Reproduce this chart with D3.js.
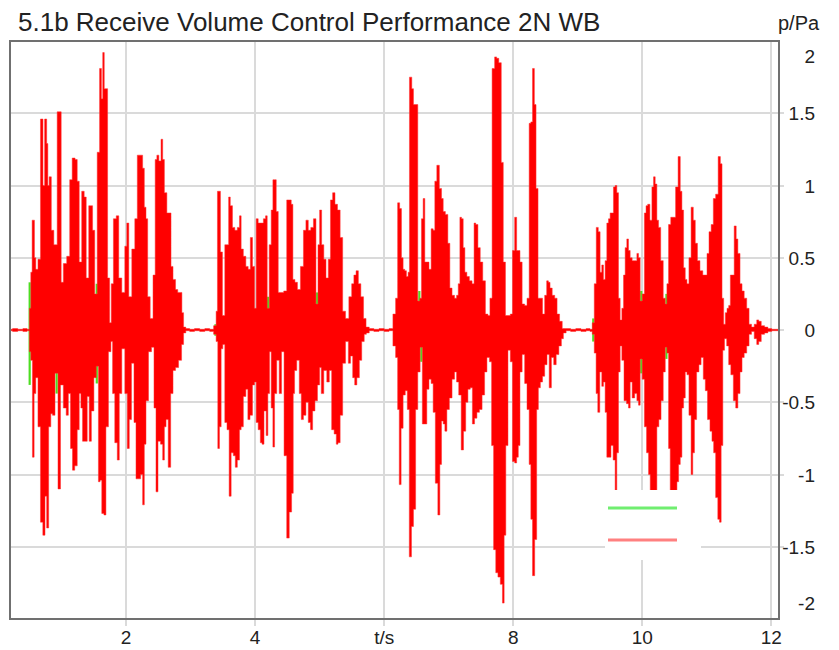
<!DOCTYPE html>
<html><head><meta charset="utf-8">
<script src="https://cdn.jsdelivr.net/npm/d3@7"></script>
<style>
body{margin:0;background:#fff;}
svg{display:block;font-family:"Liberation Sans",Arial,Helvetica,sans-serif;}
</style>
</head><body>
<svg id="chart" width="839" height="650"></svg>
<script>
// ---------- DATA ----------
const chartTitle = "5.1b Receive Volume Control Performance 2N WB";
const yUnitLabel = "p/Pa";
const xTickValues = [2, 4, 6, 8, 10, 12];
const xTickLabels = ["2", "4", "t/s", "8", "10", "12"];
const yTickValues = [2, 1.5, 1, 0.5, 0, -0.5, -1, -1.5, -2];
const yTickLabels = ["2", "1.5", "1", "0.5", "0", "-0.5", "-1", "-1.5", "-2"];
const legendNames = ["", ""];

// red trace: positive peak envelope [t (s), p (Pa)]
const redUpper = [
[0.20,0.005],[0.28,0.01],[0.36,0.005],[0.44,0.01],[0.49,0.005],
[0.510,0.15],[0.535,0.40],[0.551,0.76],[0.571,0.76],[0.587,0.50],[0.613,0.42],[0.654,0.49],[0.691,1.46],[0.706,1.46],[0.716,1.00],[0.758,1.46],[0.779,1.29],[0.794,1.00],[0.820,1.06],[0.861,0.69],[0.898,0.59],[0.965,1.51],[0.986,1.51],[1.001,0.33],[1.053,0.46],[1.105,0.51],[1.146,1.04],[1.182,1.19],[1.193,1.19],[1.224,1.18],[1.260,1.03],[1.286,0.47],[1.337,0.96],[1.363,0.92],[1.400,0.36],[1.441,0.86],[1.467,0.86],[1.493,0.69],[1.534,0.25],[1.570,1.23],[1.607,1.81],[1.627,1.60],[1.648,1.92],[1.674,1.67],[1.700,1.67],[1.726,0.36],[1.762,0.05],[1.777,0.32],[1.829,0.77],[1.865,0.79],[1.907,0.36],[1.959,0.26],[2.000,0.58],[2.021,0.74],[2.062,0.23],[2.114,0.56],[2.155,0.77],[2.192,1.21],[2.243,1.21],[2.269,1.12],[2.295,0.85],[2.321,0.77],[2.347,0.23],[2.399,0.08],[2.435,0.38],[2.466,1.18],[2.487,1.21],[2.528,1.17],[2.554,1.32],[2.580,1.18],[2.606,0.95],[2.657,0.81],[2.683,0.81],[2.709,0.44],[2.745,0.35],[2.787,0.28],[2.813,0.26],[2.849,0.26],[2.880,0.12],[2.901,0.02],
[2.95,0.01],[3.02,0.005],[3.10,0.01],[3.18,0.005],[3.26,0.01],[3.33,0.005],
[3.382,0.03],[3.408,0.13],[3.423,0.96],[3.449,0.96],[3.475,0.54],[3.511,0.10],[3.548,0.59],[3.579,0.59],[3.599,0.92],[3.630,0.86],[3.667,0.71],[3.703,0.69],[3.744,0.71],[3.770,0.79],[3.796,0.56],[3.838,0.51],[3.874,0.44],[3.910,0.42],[3.941,0.64],[3.977,0.44],[4.003,0.15],[4.029,0.77],[4.065,0.74],[4.107,0.74],[4.148,0.77],[4.174,0.79],[4.200,0.15],[4.236,0.59],[4.262,0.83],[4.288,1.04],[4.314,1.04],[4.340,0.82],[4.376,0.26],[4.417,0.26],[4.469,0.27],[4.510,0.90],[4.547,0.90],[4.572,0.87],[4.598,0.35],[4.635,0.33],[4.676,0.28],[4.728,0.44],[4.769,0.69],[4.805,0.76],[4.842,0.69],[4.883,0.71],[4.924,0.77],[4.961,0.18],[4.987,0.59],[5.012,0.83],[5.049,0.59],[5.080,0.49],[5.116,0.36],[5.152,0.49],[5.183,0.90],[5.219,0.95],[5.256,0.87],[5.297,0.83],[5.338,0.64],[5.375,0.13],[5.427,0.08],[5.478,0.23],[5.515,0.32],[5.546,0.38],[5.582,0.41],[5.618,0.32],[5.659,0.23],[5.701,0.08],[5.737,0.02],
[5.80,0.01],[5.88,0.005],[5.96,0.01],[6.04,0.005],[6.11,0.01],
[6.161,0.11],[6.193,0.22],[6.224,0.88],[6.255,0.84],[6.281,0.50],[6.306,0.42],[6.332,0.41],[6.358,0.37],[6.384,0.40],[6.400,1.75],[6.420,1.75],[6.436,1.67],[6.472,1.56],[6.503,1.56],[6.539,0.20],[6.565,0.22],[6.591,0.77],[6.617,0.91],[6.643,0.47],[6.679,0.47],[6.710,0.42],[6.746,0.70],[6.772,0.69],[6.798,1.03],[6.834,1.14],[6.876,0.98],[6.902,0.91],[6.928,0.82],[6.969,0.80],[7.005,0.60],[7.031,0.29],[7.073,0.24],[7.109,0.22],[7.135,0.24],[7.161,0.32],[7.186,0.78],[7.212,0.77],[7.238,0.57],[7.264,0.40],[7.300,0.37],[7.342,0.34],[7.383,0.32],[7.404,0.74],[7.435,0.73],[7.471,0.57],[7.507,0.47],[7.549,0.34],[7.590,0.11],[7.626,0.10],[7.652,0.22],[7.694,1.81],[7.730,1.89],[7.756,1.88],[7.797,1.85],[7.833,1.16],[7.859,0.47],[7.901,0.10],[7.937,0.10],[7.973,0.11],[8.004,0.55],[8.041,0.78],[8.066,0.55],[8.092,0.55],[8.118,0.47],[8.159,0.18],[8.196,0.17],[8.232,0.22],[8.263,1.43],[8.284,1.44],[8.315,1.81],[8.341,1.56],[8.367,0.98],[8.403,0.22],[8.439,0.22],[8.470,0.11],[8.506,0.24],[8.532,0.34],[8.558,0.33],[8.584,0.29],[8.625,0.24],[8.662,0.22],[8.698,0.11],[8.739,0.06],[8.781,0.01],
[8.85,0.01],[8.93,0.005],[9.01,0.01],[9.09,0.005],[9.17,0.01],[9.21,0.005],
[9.241,0.05],[9.272,0.32],[9.303,0.71],[9.334,0.68],[9.360,0.40],[9.386,0.45],[9.412,0.35],[9.438,0.48],[9.464,0.74],[9.490,0.77],[9.515,0.81],[9.541,0.81],[9.567,0.99],[9.593,1.00],[9.619,0.95],[9.645,0.22],[9.671,0.07],[9.697,0.15],[9.723,0.38],[9.748,0.57],[9.774,0.63],[9.800,0.55],[9.826,0.50],[9.862,0.48],[9.904,0.48],[9.930,0.53],[9.955,0.50],[9.981,0.20],[10.018,0.25],[10.049,0.81],[10.069,0.86],[10.100,0.87],[10.137,0.76],[10.163,0.99],[10.188,1.06],[10.214,1.01],[10.240,0.76],[10.266,0.71],[10.307,0.48],[10.344,0.22],[10.370,0.18],[10.395,0.32],[10.421,0.73],[10.463,0.78],[10.499,0.78],[10.535,0.99],[10.577,1.20],[10.602,0.96],[10.628,0.83],[10.654,0.43],[10.680,0.35],[10.706,0.32],[10.742,0.50],[10.773,0.85],[10.810,0.76],[10.835,0.60],[10.877,0.48],[10.913,0.41],[10.965,0.38],[10.991,0.38],[11.017,0.53],[11.053,0.68],[11.084,0.73],[11.120,0.91],[11.156,0.94],[11.198,1.20],[11.224,1.15],[11.250,0.22],[11.275,0.04],[11.301,0.12],[11.327,0.15],[11.353,0.17],[11.379,0.38],[11.405,0.38],[11.446,0.72],[11.467,0.63],[11.498,0.53],[11.534,0.32],[11.560,0.27],[11.601,0.22],[11.638,0.15],[11.674,0.04],[11.715,0.02],[11.757,0.04],[11.793,0.07],[11.819,0.06],[11.871,0.03],[11.922,0.02],[11.974,0.01],
[12.04,0.005],[12.12,0.005]
];

// red trace: negative peak envelope [t (s), p (Pa)]
const redLower = [
[0.20,-0.005],[0.28,-0.01],[0.36,-0.005],[0.44,-0.01],[0.49,-0.005],
[0.510,-0.15],[0.535,-0.21],[0.561,-0.88],[0.587,-0.44],[0.613,-0.33],[0.654,-0.67],[0.691,-1.33],[0.727,-1.42],[0.758,-1.15],[0.779,-1.37],[0.820,-0.67],[0.846,-0.58],[0.872,-0.59],[0.923,-0.30],[0.965,-1.10],[1.001,-0.38],[1.053,-0.54],[1.089,-0.59],[1.120,-0.44],[1.156,-0.82],[1.182,-0.97],[1.224,-0.94],[1.260,-0.69],[1.286,-0.44],[1.312,-0.54],[1.337,-0.77],[1.379,-0.77],[1.415,-0.46],[1.441,-0.77],[1.482,-0.56],[1.519,-0.33],[1.555,-0.25],[1.586,-1.05],[1.607,-1.04],[1.638,-1.27],[1.674,-1.28],[1.700,-0.67],[1.752,-0.15],[1.777,-0.08],[1.803,-0.44],[1.845,-0.78],[1.881,-0.90],[1.907,-0.44],[1.959,-0.13],[2.000,-0.44],[2.036,-0.82],[2.062,-0.62],[2.104,-0.23],[2.140,-0.64],[2.166,-1.03],[2.207,-1.03],[2.243,-1.00],[2.269,-1.21],[2.295,-0.79],[2.321,-0.49],[2.373,-0.15],[2.414,-0.12],[2.450,-0.54],[2.476,-1.12],[2.512,-0.77],[2.554,-0.79],[2.580,-0.90],[2.606,-0.67],[2.632,-0.62],[2.673,-0.95],[2.709,-0.44],[2.745,-0.28],[2.787,-0.26],[2.839,-0.21],[2.880,-0.10],[2.901,-0.02],
[2.95,-0.005],[3.02,-0.01],[3.10,-0.005],[3.18,-0.01],[3.26,-0.005],[3.33,-0.01],
[3.382,-0.03],[3.408,-0.08],[3.434,-0.82],[3.460,-0.67],[3.486,-0.13],[3.511,-0.10],[3.548,-0.64],[3.579,-0.69],[3.615,-1.15],[3.641,-0.85],[3.682,-0.87],[3.703,-0.95],[3.744,-0.90],[3.770,-0.69],[3.796,-0.67],[3.838,-0.46],[3.874,-0.41],[3.900,-0.62],[3.941,-0.59],[3.977,-0.38],[4.003,-0.36],[4.029,-0.64],[4.065,-0.69],[4.096,-0.78],[4.117,-0.79],[4.158,-0.56],[4.184,-0.73],[4.210,-0.44],[4.236,-0.15],[4.262,-0.54],[4.288,-0.81],[4.314,-0.44],[4.355,-0.21],[4.391,-0.44],[4.427,-0.15],[4.469,-0.87],[4.510,-1.44],[4.547,-1.26],[4.583,-1.13],[4.598,-0.44],[4.624,-0.28],[4.666,-0.21],[4.702,-0.44],[4.728,-0.62],[4.769,-0.59],[4.805,-0.50],[4.842,-0.64],[4.873,-0.69],[4.909,-0.56],[4.945,-0.49],[4.987,-0.38],[5.012,-0.26],[5.038,-0.44],[5.090,-0.28],[5.131,-0.36],[5.168,-0.28],[5.204,-0.69],[5.245,-0.72],[5.271,-0.79],[5.297,-0.78],[5.338,-0.59],[5.375,-0.23],[5.427,-0.08],[5.463,-0.23],[5.494,-0.18],[5.530,-0.33],[5.556,-0.38],[5.597,-0.33],[5.634,-0.21],[5.670,-0.08],[5.711,-0.03],[5.737,-0.02],
[5.80,-0.005],[5.88,-0.01],[5.96,-0.005],[6.04,-0.01],[6.11,-0.005],
[6.161,-0.11],[6.193,-0.19],[6.224,-0.55],[6.244,-1.07],[6.281,-0.68],[6.306,-0.45],[6.348,-0.42],[6.369,-0.55],[6.410,-1.57],[6.436,-1.36],[6.472,-1.24],[6.503,-0.55],[6.539,-0.29],[6.576,-0.12],[6.607,-0.65],[6.643,-0.65],[6.679,-0.41],[6.710,-0.34],[6.746,-0.37],[6.772,-0.57],[6.814,-1.06],[6.850,-1.28],[6.876,-0.93],[6.902,-0.63],[6.928,-0.65],[6.954,-0.70],[6.990,-0.55],[7.031,-0.47],[7.073,-0.34],[7.109,-0.29],[7.135,-0.36],[7.176,-0.45],[7.212,-0.83],[7.248,-0.70],[7.280,-0.50],[7.316,-0.41],[7.352,-0.40],[7.383,-0.65],[7.419,-0.61],[7.456,-0.57],[7.497,-0.55],[7.538,-0.45],[7.575,-0.29],[7.611,-0.19],[7.652,-0.22],[7.678,-0.80],[7.714,-1.52],[7.745,-1.68],[7.782,-1.71],[7.818,-1.76],[7.849,-1.89],[7.870,-1.42],[7.901,-0.80],[7.937,-0.14],[7.973,-0.22],[8.004,-0.91],[8.041,-0.92],[8.066,-0.88],[8.092,-0.80],[8.118,-0.29],[8.159,-0.17],[8.196,-0.37],[8.232,-0.55],[8.263,-0.93],[8.284,-1.31],[8.315,-1.70],[8.351,-1.45],[8.377,-0.55],[8.403,-0.40],[8.439,-0.36],[8.470,-0.32],[8.506,-0.24],[8.542,-0.17],[8.574,-0.40],[8.610,-0.19],[8.646,-0.24],[8.687,-0.17],[8.729,-0.11],[8.765,-0.06],[8.791,-0.02],
[8.85,-0.005],[8.93,-0.01],[9.01,-0.005],[9.09,-0.01],[9.17,-0.005],[9.21,-0.01],
[9.241,-0.03],[9.272,-0.16],[9.298,-0.44],[9.324,-0.57],[9.360,-0.29],[9.386,-0.39],[9.412,-0.36],[9.438,-0.57],[9.464,-0.88],[9.500,-0.88],[9.531,-0.80],[9.567,-0.90],[9.593,-1.15],[9.619,-0.85],[9.645,-0.29],[9.671,-0.11],[9.697,-0.21],[9.738,-0.49],[9.774,-0.51],[9.800,-0.54],[9.826,-0.36],[9.862,-0.47],[9.904,-0.44],[9.930,-0.49],[9.955,-0.52],[9.981,-0.20],[10.018,-0.34],[10.049,-0.67],[10.085,-0.85],[10.111,-1.00],[10.137,-1.20],[10.163,-1.25],[10.188,-1.20],[10.214,-1.15],[10.240,-0.67],[10.276,-0.62],[10.307,-0.49],[10.344,-0.29],[10.370,-0.12],[10.395,-0.16],[10.421,-0.82],[10.447,-1.20],[10.473,-1.25],[10.499,-1.25],[10.525,-1.20],[10.551,-1.05],[10.577,-0.93],[10.602,-0.88],[10.628,-0.54],[10.654,-0.47],[10.680,-0.29],[10.706,-0.31],[10.742,-0.59],[10.773,-1.00],[10.794,-0.85],[10.825,-0.62],[10.861,-0.29],[10.897,-0.24],[10.928,-0.19],[10.965,-0.34],[10.991,-0.42],[11.032,-0.62],[11.068,-0.70],[11.094,-0.77],[11.120,-0.85],[11.156,-1.16],[11.187,-1.31],[11.208,-1.33],[11.239,-0.80],[11.260,-0.14],[11.291,-0.06],[11.327,-0.11],[11.353,-0.24],[11.394,-0.31],[11.431,-0.49],[11.467,-0.54],[11.498,-0.44],[11.534,-0.29],[11.560,-0.19],[11.601,-0.16],[11.638,-0.11],[11.674,-0.03],[11.715,-0.01],[11.757,-0.06],[11.793,-0.10],[11.819,-0.08],[11.871,-0.03],[11.922,-0.02],[11.974,-0.01],
[12.04,-0.005],[12.12,-0.005]
];

// green trace (mostly hidden behind red): visible peaks
const greenTimes = [0.505, 0.923, 1.545, 3.385, 4.200, 4.961, 6.545, 6.576, 9.241, 9.985, 10.375];
const greenHigh  = [0.33, 0.10, 0.32, 0.04, 0.23, 0.26, 0.27, 0.10, 0.08, 0.27, 0.25];
const greenLow   = [-0.38, -0.44, -0.37, -0.04, -0.05, -0.05, -0.10, -0.22, -0.08, -0.30, -0.20];

// ---------- LAYOUT ----------
const plot = {left: 10, right: 779, top: 41, bottom: 619};
const svg = d3.select("#chart");
const x = d3.scaleLinear().domain([0.2, 12.12]).range([plot.left, plot.right]);
const y = d3.scaleLinear().domain([-2, 2]).range([plot.bottom, plot.top]);

svg.append("rect").attr("width", 839).attr("height", 650).attr("fill", "#fff");

const gridColor = "#dadada";
svg.append("g").selectAll("line").data(xTickValues).join("line")
  .attr("x1", d => Math.round(x(d))).attr("x2", d => Math.round(x(d)))
  .attr("y1", plot.top).attr("y2", plot.bottom + 7)
  .attr("stroke", gridColor).attr("stroke-width", 2);
svg.append("g").selectAll("line").data(yTickValues.filter(v => Math.abs(v) < 2)).join("line")
  .attr("x1", plot.left).attr("x2", plot.right + 5)
  .attr("y1", d => Math.round(y(d))).attr("y2", d => Math.round(y(d)))
  .attr("stroke", gridColor).attr("stroke-width", 2);

svg.append("clipPath").attr("id", "clip").append("rect")
  .attr("x", plot.left).attr("y", plot.top)
  .attr("width", plot.right - plot.left).attr("height", plot.bottom - plot.top);
const data = svg.append("g").attr("clip-path", "url(#clip)");

data.append("g").selectAll("line").data(greenTimes).join("line")
  .attr("x1", d => x(d)).attr("x2", d => x(d))
  .attr("y1", (d, i) => y(greenHigh[i])).attr("y2", (d, i) => y(greenLow[i]))
  .attr("stroke", "#4ddd22").attr("stroke-width", 2.2);

const outline = redUpper.concat(redLower.slice().reverse());
const line = d3.line().x(d => x(d[0])).y(d => y(d[1])).curve(d3.curveStep);
data.append("path").attr("d", line(outline) + "Z")
  .attr("fill", "#ff0000").attr("stroke", "#ff3030").attr("stroke-opacity", 0.55)
  .attr("stroke-width", 0.9).attr("stroke-linejoin", "miter");

// legend (blank labels)
const lg = svg.append("g");
lg.append("rect").attr("x", 605).attr("y", 490).attr("width", 96).attr("height", 70).attr("fill", "#fff");
const legendColors = ["#70ee70", "#ff8080"];
lg.selectAll("line").data(legendNames).join("line")
  .attr("x1", 608).attr("x2", 677)
  .attr("y1", (d, i) => 508 + i * 32).attr("y2", (d, i) => 508 + i * 32)
  .attr("stroke", (d, i) => legendColors[i]).attr("stroke-width", 3);
lg.selectAll("text").data(legendNames).join("text")
  .attr("x", 682).attr("y", (d, i) => 514 + i * 32).text(d => d);

svg.append("rect").attr("x", plot.left).attr("y", plot.top)
  .attr("width", plot.right - plot.left).attr("height", plot.bottom - plot.top)
  .attr("fill", "none").attr("stroke", "#707070").attr("stroke-width", 2);

svg.append("text").attr("x", 18).attr("y", 31).attr("font-size", 26).attr("fill", "#222")
  .text(chartTitle);
svg.append("text").attr("x", 778).attr("y", 30).attr("font-size", 20).attr("fill", "#222")
  .text(yUnitLabel);

svg.append("g").selectAll("text").data(yTickValues).join("text")
  .attr("x", 815).attr("text-anchor", "end").attr("font-size", 19).attr("fill", "#222")
  .attr("y", d => y(d) + 7 + (d === 2 ? 15 : d === -2 ? -16 : 0))
  .text((d, i) => yTickLabels[i]);

svg.append("g").selectAll("text").data(xTickValues).join("text")
  .attr("x", d => x(d)).attr("y", 644).attr("text-anchor", "middle")
  .attr("font-size", 19).attr("fill", "#222")
  .text((d, i) => xTickLabels[i]);
</script>
</body></html>
